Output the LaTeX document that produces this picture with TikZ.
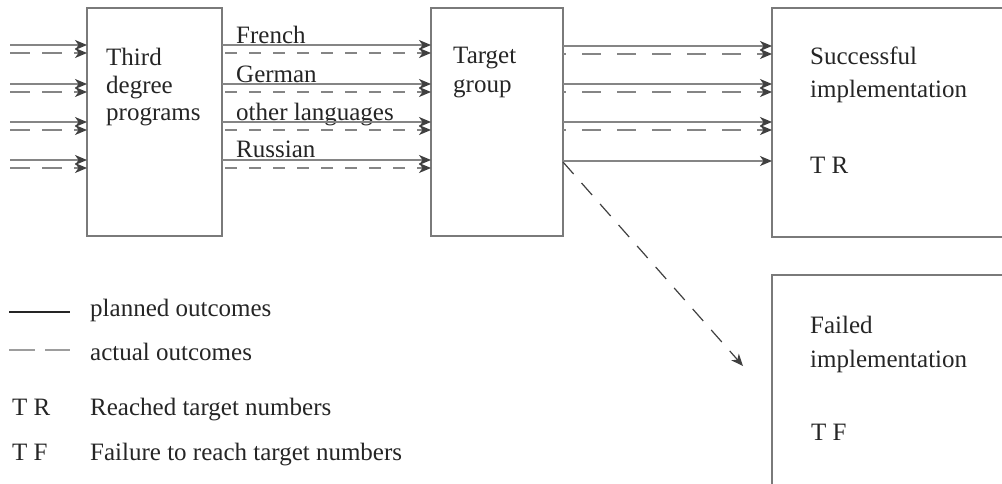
\documentclass[tikz,border=0pt]{standalone}
\usepackage{fontspec}
\setmainfont{Liberation Serif}
\usetikzlibrary{arrows.meta}
\definecolor{boxgray}{HTML}{7A7A7A}
\definecolor{linegray}{HTML}{858585}
\definecolor{tipgray}{HTML}{404040}
\definecolor{txt}{HTML}{252525}
\begin{document}
\begin{tikzpicture}[x=1pt,y=-1pt,
  box/.style={draw=boxgray,line width=1.5pt,anchor=north west,inner sep=0pt,outer sep=0pt},
  lbl/.style={anchor=base west,inner sep=0pt,text=txt,font=\fontsize{25}{28}\selectfont},
  plan/.style={draw=linegray,line width=1.3pt,-{Stealth[length=12pt,width=10pt,inset=3.5pt,color=tipgray]}},
  act/.style={plan,dash pattern=on 12pt off 12pt},
]
\clip (0,0) rectangle (1002,483);
% boxes
\node[box,minimum width=135pt,minimum height=228pt] (prog) at (87,8) {};
\node[box,minimum width=132pt,minimum height=228pt] (tgt) at (431,8) {};
\node[box,minimum width=260pt,minimum height=229pt] (succ) at (772,8) {};
\node[box,minimum width=260pt,minimum height=240pt] (fail) at (772,275) {};
% box texts
\node[lbl] (t1) at (106,65) {Third};
\node[lbl] (t2) at (106,93) {degree};
\node[lbl] (t3) at (106,120) {programs};
\node[lbl] (g1) at (453,63) {Target};
\node[lbl] (g2) at (453,92) {group};
\node[lbl] (s1) at (810,64) {Successful};
\node[lbl] (s2) at (810,97) {implementation};
\node[lbl] (s3) at (810,173) {T R};
\node[lbl] (f1) at (810,333) {Failed};
\node[lbl] (f2) at (810,367) {implementation};
\node[lbl] (f3) at (811,440) {T F};
% language labels
\node[lbl] (l1) at (236,43) {French};
\node[lbl] (l2) at (236,82) {German};
\node[lbl] (l3) at (236,120) {other languages};
\node[lbl] (l4) at (236,157) {Russian};
% input arrows
\foreach \y [count=\i] in {45,84,122,160}{
  \coordinate (ins\i) at (10,\y);
  \draw[plan] (ins\i) -- (prog.west |- ins\i);
}
\foreach \y [count=\i] in {53,92,130,168}{
  \coordinate (ind\i) at (10,\y);
  \draw[plan,dash pattern=on 20pt off 12pt] (ind\i) -- (prog.west |- ind\i);
}
% middle arrows
\foreach \y [count=\i] in {45,84,122,160}{
  \coordinate (ms\i) at (prog.east |- 0,\y);
  \draw[plan] (ms\i) -- (tgt.west |- ms\i);
}
\foreach \y [count=\i] in {53,92,130,168}{
  \coordinate (md\i) at (prog.east |- 0,\y);
  \draw[act,dash phase=21pt] (md\i) -- (tgt.west |- md\i);
}
% right arrows
\foreach \y [count=\i] in {46,84,122,161}{
  \coordinate (rs\i) at (tgt.east |- 0,\y);
  \draw[plan] (rs\i) -- (succ.west |- rs\i);
}
\foreach \y [count=\i] in {54,92,130}{
  \coordinate (rd\i) at (tgt.east |- 0,\y);
  \draw[plan,dash pattern=on 19pt off 16pt,dash phase=16pt] (rd\i) -- (succ.west |- rd\i);
}
% diagonal
\coordinate (dg0) at (tgt.east |- 0,162);
\coordinate (dg1) at (743,366);
\draw[plan,draw=tipgray,line width=1.2pt,dash pattern=on 16pt off 12pt] (dg0) -- (dg1);
% legend
\coordinate (la1) at (9,312); \coordinate (la2) at (70,312);
\draw[draw=txt,line width=1.3pt] (la1) -- (la2);
\node[lbl] (lg1) at (90,316) {planned outcomes};
\coordinate (lb1) at (9,350); \coordinate (lb2) at (70,350);
\draw[draw=linegray!80,line width=1.3pt,dash pattern=on 26pt off 10pt] (lb1) -- (lb2);
\node[lbl] (lg2) at (90,360) {actual outcomes};
\node[lbl] (lg3) at (12,415) {T R};
\node[lbl] (lg4) at (90,415) {Reached target numbers};
\node[lbl] (lg5) at (12,460) {T F};
\node[lbl] (lg6) at (90,460) {Failure to reach target numbers};
\end{tikzpicture}
\end{document}
